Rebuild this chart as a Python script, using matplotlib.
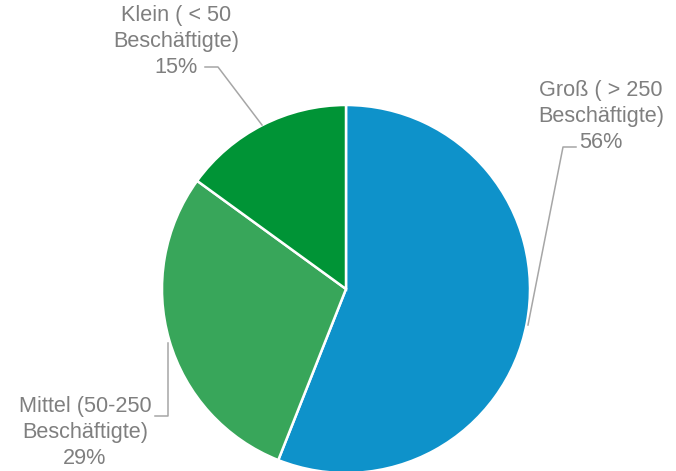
import matplotlib
matplotlib.use('Agg')
import matplotlib.pyplot as plt

# Daten
labels = ['Groß ( > 250\nBeschäftigte)', 'Mittel (50-250\nBeschäftigte)', 'Klein ( < 50\nBeschäftigte)']
shares = [56, 29, 15]
colors = ['#0E92CA', '#38A65A', '#009436']

W, H = 676, 471
fig = plt.figure(figsize=(W / 100, H / 100), dpi=100)
ax = fig.add_axes([0, 0, 1, 1])

cx, cy, r = 346, H - 289, 184
wedges, _ = ax.pie(shares, colors=colors, startangle=90, counterclock=False,
                   center=(cx, cy), radius=r, frame=True,
                   wedgeprops=dict(edgecolor='white', linewidth=1.8))
ax.set_xlim(0, W)
ax.set_ylim(0, H)
ax.set_aspect('equal')
ax.axis('off')

txt = dict(fontsize=15.6, color='#7F7F7F', family=['Liberation Sans', 'DejaVu Sans'],
           ha='center', va='baseline', linespacing=1.3)
line = dict(color='#A6A6A6', lw=1.1)

# Beschriftungen mit Führungslinien (Pixelpositionen des Originals, Grundlinie der letzten Zeile)
label_pos = [(601, 148), (85, 464), (176, 73)]
leaders = [
    ([576, 563, 528], [147, 147, 325]),
    ([155, 168, 168], [416, 416, 343]),
    ([205, 218, 262], [67, 67, 125]),
]
for lab, s, (tx, ty), (lx, ly) in zip(labels, shares, label_pos, leaders):
    ax.text(tx, H - ty, f'{lab}\n{s}%', multialignment='center', **txt)
    ax.plot(lx, [H - v for v in ly], **line)

fig.savefig('out.png', dpi=100)
